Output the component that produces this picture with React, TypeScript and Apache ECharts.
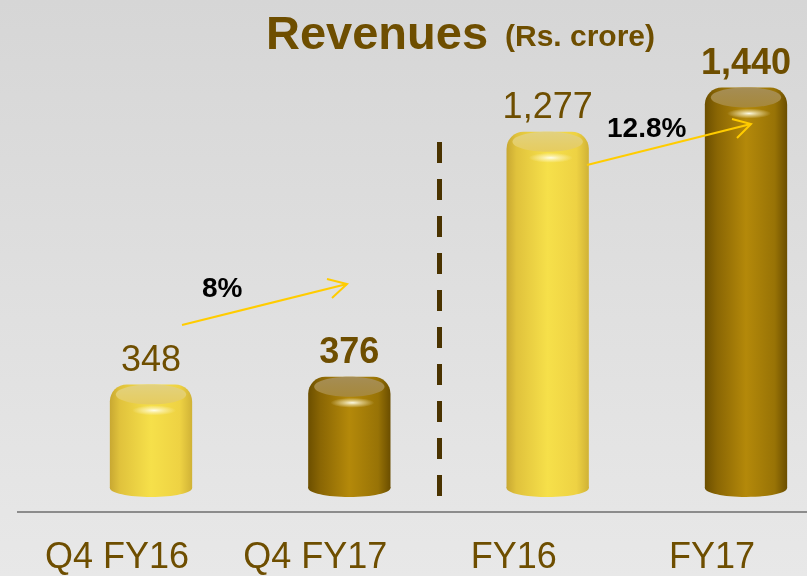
import React, { useEffect, useRef } from 'react';
import * as echarts from 'echarts';

const categories = ['Q4 FY16', 'Q4 FY17', 'FY16', 'FY17'];
const revenues = [348, 376, 1277, 1440];
const valueLabels = ['348', '376', '1,277', '1,440'];
const growthLabels = ['8%', '12.8%'];
const titleText = 'Revenues';
const unitText = '(Rs. crore)';

const BROWN = '#6E4E00';
const FONT = '"Liberation Sans", Arial, sans-serif';

export default function App() {
  const ref = useRef<HTMLDivElement>(null);
  useEffect(() => {
    if (!ref.current) return;
    const chart = echarts.init(ref.current, null, { renderer: 'svg' });
    const lightBody = () =>
      new echarts.graphic.LinearGradient(0, 0, 1, 0, [
        { offset: 0, color: '#c8a832' },
        { offset: 0.12, color: '#e0c23c' },
        { offset: 0.5, color: '#f6e04a' },
        { offset: 0.85, color: '#eed243' },
        { offset: 1, color: '#d0b236' },
      ]);
    const darkBody = () =>
      new echarts.graphic.LinearGradient(0, 0, 1, 0, [
        { offset: 0, color: '#6c4f00' },
        { offset: 0.15, color: '#8a6604' },
        { offset: 0.5, color: '#b4890a' },
        { offset: 0.85, color: '#987306' },
        { offset: 1, color: '#6b4e00' },
      ]);
    const lightCap = () =>
      new echarts.graphic.LinearGradient(0, 0, 0, 1, [
        { offset: 0, color: '#e2d17e' },
        { offset: 1, color: '#e6cc5e' },
      ]);
    const darkCap = () =>
      new echarts.graphic.LinearGradient(0, 0, 0, 1, [
        { offset: 0, color: '#a58d55' },
        { offset: 1, color: '#a6883a' },
      ]);
    const highlight = () =>
      new echarts.graphic.RadialGradient(0.5, 0.5, 0.5, [
        { offset: 0, color: 'rgba(255,255,240,0.95)' },
        { offset: 0.4, color: 'rgba(255,250,220,0.55)' },
        { offset: 1, color: 'rgba(255,250,220,0)' },
      ]);

    chart.setOption({
      animation: false,
      grid: { left: 151, right: 61, top: 53, bottom: 88, outerBoundsMode: 'none', containLabel: false },
      xAxis: {
        type: 'category',
        data: categories,
        boundaryGap: false,
        axisLine: { show: false },
        axisTick: { show: false },
        splitLine: { show: false },
        axisLabel: {
          interval: 0,
          fontSize: 36,
          fontFamily: FONT,
          color: BROWN,
          margin: 49,
          padding: [0, 68, 0, 0],
        },
      },
      yAxis: { type: 'value', min: 0, max: 1600, show: false },
      graphic: [
        {
          type: 'rect',
          z: -10,
          shape: { x: 0, y: 0, width: 807, height: 576 },
          style: {
            fill: new echarts.graphic.LinearGradient(0, 0, 0, 1, [
              { offset: 0, color: '#d6d6d6' },
              { offset: 1, color: '#e8e8e8' },
            ]),
          },
        },
        {
          type: 'line',
          z: 1,
          shape: { x1: 17, y1: 512, x2: 807, y2: 512 },
          style: { stroke: '#8c8c8c', lineWidth: 2 },
        },
        {
          type: 'line',
          z: 1,
          shape: { x1: 439.5, y1: 142, x2: 439.5, y2: 499 },
          style: { stroke: '#4a3300', lineWidth: 5, lineDash: [21, 16] },
        },
        {
          type: 'text',
          z: 10,
          x: 266,
          y: 32,
          style: { text: titleText, font: `bold 47px ${FONT}`, fill: BROWN, textAlign: 'left', textVerticalAlign: 'middle' },
        },
        {
          type: 'text',
          z: 10,
          x: 505,
          y: 35,
          style: { text: unitText, font: `bold 30px ${FONT}`, fill: BROWN, textAlign: 'left', textVerticalAlign: 'middle' },
        },
        {
          type: 'text',
          z: 10,
          x: 202,
          y: 287,
          style: { text: growthLabels[0], font: `bold 28px ${FONT}`, fill: '#000', textAlign: 'left', textVerticalAlign: 'middle' },
        },
        {
          type: 'text',
          z: 10,
          x: 607,
          y: 127,
          style: { text: growthLabels[1], font: `bold 28px ${FONT}`, fill: '#000', textAlign: 'left', textVerticalAlign: 'middle' },
        },
        {
          type: 'line',
          z: 10,
          shape: { x1: 182, y1: 325, x2: 347, y2: 284 },
          style: { stroke: '#FFCC00', lineWidth: 2 },
        },
        {
          type: 'polyline',
          z: 10,
          shape: { points: [[327, 279], [347, 284], [332, 298]] },
          style: { stroke: '#FFCC00', lineWidth: 2, fill: 'none' },
        },
        {
          type: 'line',
          z: 10,
          shape: { x1: 587, y1: 165, x2: 751, y2: 124 },
          style: { stroke: '#FFCC00', lineWidth: 2 },
        },
        {
          type: 'polyline',
          z: 10,
          shape: { points: [[732, 119], [751, 124], [737, 138]] },
          style: { stroke: '#FFCC00', lineWidth: 2, fill: 'none' },
        },
      ],
      series: [
        {
          type: 'custom',
          clip: false,
          z: 5,
          data: revenues.map((v, i) => [i, v]),
          renderItem: (params: any, api: any) => {
            const i = params.dataIndex;
            const v = api.value(1);
            const p = api.coord([i, v]);
            const b = api.coord([i, 0]);
            const step = api.coord([1, 0])[0] - api.coord([0, 0])[0];
            const w = step * 0.415;
            const rx = w / 2;
            const ry = 9;
            const topEdge = p[1] - ry;
            const dark = i % 2 === 1;
            return {
              type: 'group',
              children: [
                { type: 'ellipse', shape: { cx: p[0], cy: b[1], rx, ry }, style: { fill: dark ? darkBody() : lightBody() } },
                {
                  type: 'rect',
                  shape: { x: p[0] - rx, y: topEdge, width: w, height: b[1] - topEdge, r: [17, 17, 0, 0] },
                  style: { fill: dark ? darkBody() : lightBody() },
                },
                { type: 'ellipse', shape: { cx: p[0], cy: topEdge + 10, rx: rx - 6, ry: 10 }, style: { fill: dark ? darkCap() : lightCap() } },
                { type: 'ellipse', shape: { cx: p[0] + 3, cy: topEdge + 26, rx: 22, ry: 5 }, style: { fill: highlight() } },
                {
                  type: 'text',
                  x: p[0],
                  y: p[1] - ry - 26,
                  style: {
                    text: valueLabels[i],
                    font: `${dark ? 'bold ' : ''}36px ${FONT}`,
                    fill: BROWN,
                    textAlign: 'center',
                    textVerticalAlign: 'middle',
                  },
                },
              ],
            };
          },
        },
      ],
    });
    return () => chart.dispose();
  }, []);
  return <div ref={ref} style={{ position: 'fixed', left: 0, top: 0, width: 807, height: 576 }} />;
}
